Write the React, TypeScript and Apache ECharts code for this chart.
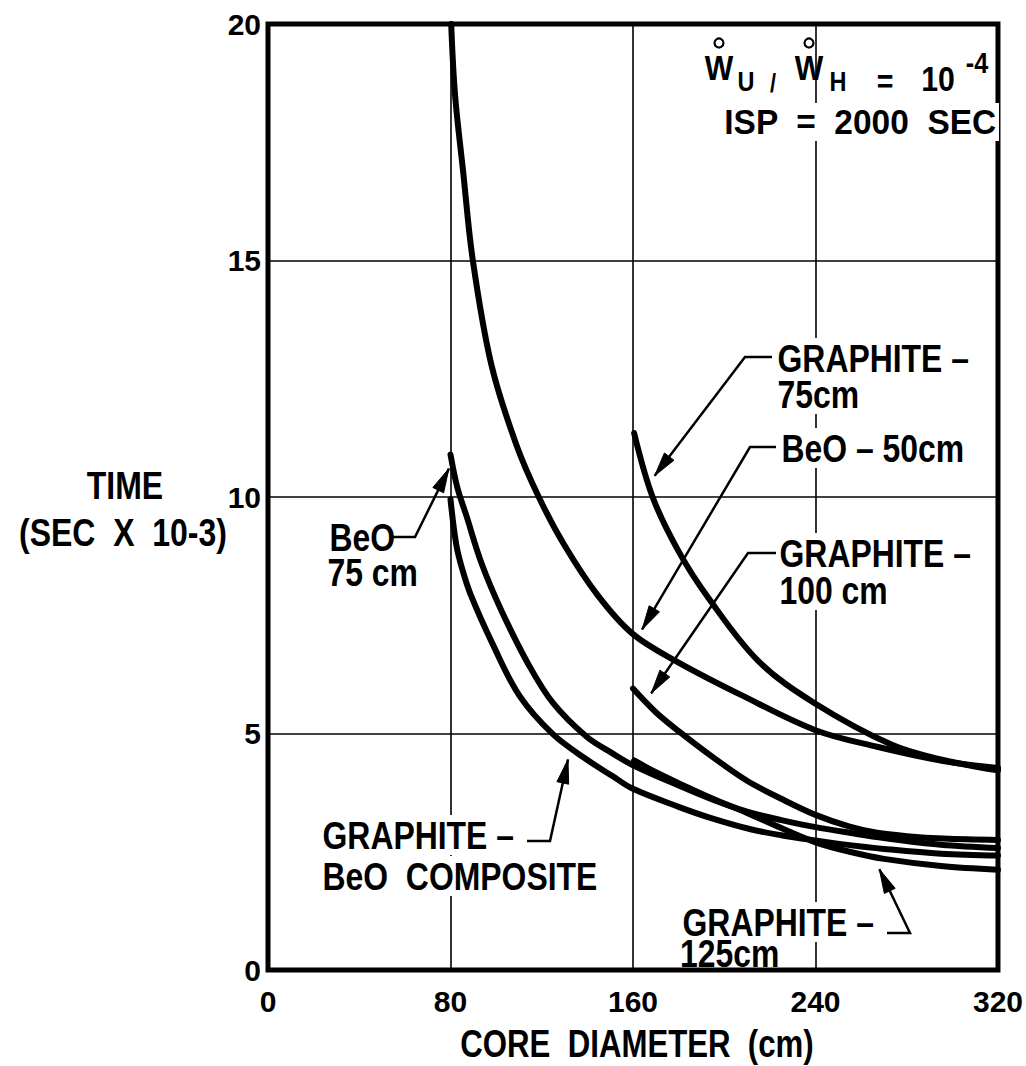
import React, { useEffect, useRef } from "react";
import * as echarts from "echarts";

// ---- axis ticks ----
const xTicks = [0, 80, 160, 240, 320];
const yTicks = [0, 5, 10, 15, 20];

// ---- series values (core diameter cm, time sec x 10^-3) ----
const beo50X = [80.3, 82, 85.5, 89.8, 97.9, 108.9, 118.7, 129.7, 144.4, 160, 180, 208, 240, 267, 296, 320];
const beo50Y = [20, 18.5, 16.9, 15.0, 12.8, 11.1, 10.0, 9.0, 7.93, 7.1, 6.5, 5.8, 5.07, 4.72, 4.42, 4.27];

const gr75X = [160.5, 168.6, 180, 193, 215, 240, 273.5, 295, 320];
const gr75Y = [11.35, 10.0, 8.85, 7.87, 6.53, 5.63, 4.76, 4.45, 4.22];

const beo75X = [80, 83, 87, 93.6, 102.5, 114.3, 125, 139.7, 151, 160, 180, 195, 210, 225, 240, 255, 270, 295, 320];
const beo75Y = [10.9, 10.2, 9.6, 8.6, 7.58, 6.45, 5.64, 4.93, 4.58, 4.33, 3.9, 3.6, 3.35, 3.17, 3.02, 2.9, 2.79, 2.65, 2.58];

const compX = [80, 82.5, 85, 88.8, 98.4, 110.2, 125, 139.7, 151, 160, 180, 195, 212, 225, 240, 255, 270, 295, 320];
const compY = [9.95, 9.0, 8.5, 7.94, 6.9, 5.8, 4.98, 4.45, 4.1, 3.83, 3.45, 3.2, 2.97, 2.85, 2.74, 2.64, 2.56, 2.46, 2.42];

const gr100X = [160, 170, 180, 195, 210, 225, 240, 255, 267, 280, 296, 320];
const gr100Y = [5.95, 5.45, 5.05, 4.5, 4.0, 3.62, 3.28, 3.03, 2.9, 2.83, 2.78, 2.75];

const gr125X = [160.5, 170, 180, 195, 210, 225, 240, 255, 270, 295, 320];
const gr125Y = [4.43, 4.18, 3.95, 3.62, 3.32, 3.0, 2.7, 2.5, 2.35, 2.2, 2.12];

// arrow tips, in data coordinates (where each annotation arrow points)
const tipGr75 = [169.5, 10.45];
const tipBeo50 = [164, 7.2];
const tipGr100 = [168, 5.85];
const tipBeo75 = [79.3, 10.6];
const tipComp = [131.5, 4.45];
const tipGr125 = [268, 2.13];

const seriesDefs = [
  { name: "BeO - 50cm", xs: beo50X, ys: beo50Y },
  { name: "GRAPHITE - 75cm", xs: gr75X, ys: gr75Y },
  { name: "BeO - 75cm", xs: beo75X, ys: beo75Y },
  { name: "GRAPHITE - BeO COMPOSITE", xs: compX, ys: compY },
  { name: "GRAPHITE - 100cm", xs: gr100X, ys: gr100Y },
  { name: "GRAPHITE - 125cm", xs: gr125X, ys: gr125Y },
];

const FONT_FAMILY = '"Liberation Sans", Arial, "DejaVu Sans", sans-serif';
const SQ = 0.84; // horizontal squeeze to mimic the condensed lettering
const LABEL_FONT = `bold 38px ${FONT_FAMILY}`;

function pairs(xs: number[], ys: number[]) {
  return xs.map((x, i) => [x, ys[i]]);
}

function arrowHead(tail: number[], tip: number[], len = 24, hw = 6) {
  const dx = tip[0] - tail[0];
  const dy = tip[1] - tail[1];
  const d = Math.hypot(dx, dy);
  const ux = dx / d;
  const uy = dy / d;
  const bx = tip[0] - ux * len;
  const by = tip[1] - uy * len;
  return [
    [tip[0], tip[1]],
    [bx - uy * hw, by + ux * hw],
    [bx + uy * hw, by - ux * hw],
  ];
}

function label(text: string, x: number, y: number, font = LABEL_FONT, align = "left", bg = true, sx = SQ) {
  return {
    type: "text",
    x,
    y,
    scaleX: sx,
    z: 100,
    style: {
      text,
      font,
      fill: "#000",
      align,
      verticalAlign: "middle",
      backgroundColor: bg ? "#fff" : undefined,
      padding: bg ? [1, 3] : 0,
    },
  };
}

function leader(points: number[][], tip: number[]) {
  const tail = points[points.length - 1];
  return [
    {
      type: "polyline",
      z: 101,
      shape: { points: [...points, tip] },
      style: { stroke: "#000", lineWidth: 2.5, fill: null },
    },
    {
      type: "polygon",
      z: 101,
      shape: { points: arrowHead(tail, tip) },
      style: { fill: "#000", stroke: "#000", lineWidth: 1 },
    },
  ];
}

function ring(cx: number, cy: number) {
  return {
    type: "circle",
    z: 100,
    shape: { cx, cy, r: 4.5 },
    style: { fill: null, stroke: "#000", lineWidth: 2.2 },
  };
}

export default function App() {
  const ref = useRef<HTMLDivElement>(null);

  useEffect(() => {
    if (!ref.current) return;
    const chart = echarts.init(ref.current, null, { renderer: "svg" });

    const tickFont = { fontFamily: FONT_FAMILY, fontWeight: "bold", fontSize: 30, color: "#000" };

    chart.setOption({
      animation: false,
      backgroundColor: "#fff",
      grid: {
        left: 268,
        right: 21,
        top: 24,
        bottom: 96,
        show: true,
        borderColor: "#000",
        borderWidth: 5,
        backgroundColor: "transparent",
      },
      xAxis: {
        type: "value",
        min: xTicks[0],
        max: xTicks[xTicks.length - 1],
        interval: 80,
        axisLine: { show: false },
        axisTick: { show: false },
        axisLabel: { ...tickFont, margin: 16, showMinLabel: true, showMaxLabel: true },
        splitLine: { show: true, lineStyle: { color: "#000", width: 1.6 } },
      },
      yAxis: {
        type: "value",
        min: yTicks[0],
        max: yTicks[yTicks.length - 1],
        interval: 5,
        axisLine: { show: false },
        axisTick: { show: false },
        axisLabel: { ...tickFont, margin: 7, showMinLabel: true, showMaxLabel: true },
        splitLine: { show: true, lineStyle: { color: "#000", width: 1.6 } },
      },
      series: seriesDefs.map((s) => ({
        name: s.name,
        type: "line",
        data: pairs(s.xs, s.ys),
        showSymbol: false,
        smooth: 0.35,
        lineStyle: { color: "#000", width: 6, cap: "round", join: "round" },
        z: 10,
      })),
    });

    const px = (p: number[]) => chart.convertToPixel({ gridIndex: 0 }, p) as number[];

    const graphic: any[] = [
      // axis titles
      label("TIME", 125, 486, `bold 39px ${FONT_FAMILY}`, "center", false, 0.82),
      label("(SEC  X  10-3)", 123, 533, `bold 39px ${FONT_FAMILY}`, "center", false, 0.82),
      label("CORE  DIAMETER  (cm)", 637, 1043, `bold 39px ${FONT_FAMILY}`, "center", false, 0.8),

      // top-right annotation
      label("W", 719, 68, `bold 36px ${FONT_FAMILY}`, "center", false),
      ring(719, 43),
      label("U", 746, 81, `bold 28px ${FONT_FAMILY}`, "center", false),
      label("/", 773, 83, `bold 26px ${FONT_FAMILY}`, "center", false),
      label("W", 809, 68, `bold 36px ${FONT_FAMILY}`, "center", false),
      ring(809, 43),
      label("H", 838, 81, `bold 28px ${FONT_FAMILY}`, "center", false),
      label("=", 885, 82, `bold 34px ${FONT_FAMILY}`, "center", false),
      label("10", 938, 79, `bold 36px ${FONT_FAMILY}`, "center", false),
      label("-4", 977, 63, `bold 30px ${FONT_FAMILY}`, "center", false),
      label("ISP  =  2000  SEC", 999, 122, `bold 36px ${FONT_FAMILY}`, "right", true, 0.93),

      // curve labels
      label("GRAPHITE –", 775, 358),
      label("75cm", 775, 394),
      label("BeO – 50cm", 779, 448),
      label("GRAPHITE –", 777, 553),
      label("100 cm", 777, 590),
      label("BeO", 327, 537),
      label("75 cm", 325, 572),
      label("GRAPHITE –", 320, 835),
      label("BeO  COMPOSITE", 320, 876),
      label("GRAPHITE –", 680, 922),
      label("125cm", 680, 953, LABEL_FONT, "left", false),

      // leaders & arrows
      ...leader([[772, 357], [745, 357]], px(tipGr75)),
      ...leader([[776, 447], [750, 447]], px(tipBeo50)),
      ...leader([[776, 553], [748, 553]], px(tipGr100)),
      ...leader([[393, 537], [415, 537]], px(tipBeo75)),
      ...leader([[527, 841], [550, 841]], px(tipComp)),
      ...leader([[887, 933], [910, 933]], px(tipGr125)),
    ];

    chart.setOption({ graphic });

    return () => {
      chart.dispose();
    };
  }, []);

  return (
    <div
      ref={ref}
      style={{ position: "absolute", left: 0, top: 0, width: 1026, height: 1066, background: "#fff" }}
    />
  );
}
